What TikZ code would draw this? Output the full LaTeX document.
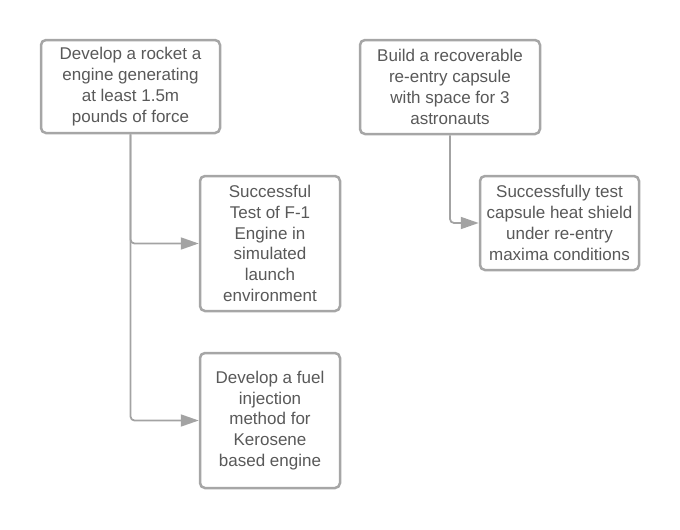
\documentclass[tikz,border=0pt]{standalone}
\usepackage{fontspec}
\setmainfont{Liberation Sans}
\usetikzlibrary{arrows.meta}
\definecolor{boxgray}{HTML}{A6A6A6}
\definecolor{linegray}{HTML}{A3A3A3}
\definecolor{txtgray}{HTML}{595959}
\tikzset{
  box/.style={draw=boxgray, line width=2.5pt, rounded corners=5pt, fill=white,
    align=center, text=txtgray, inner sep=0pt,
    font=\fontsize{17}{20.8}\selectfont},
  conn/.style={draw=linegray, line width=1.8pt, rounded corners=4pt,
    -{Triangle[length=18pt,width=12pt]}}
}
\begin{document}
\begin{tikzpicture}[x=1pt,y=-1pt]
\useasboundingbox (0,0) rectangle (680,530);
\node[box, minimum width=179pt, minimum height=93pt] (b1) at (130.5,86.5)
  {Develop a rocket a\\engine generating\\at least 1.5m\\pounds of force};
\node[box, minimum width=140pt, minimum height=135pt] (b2) at (270,243.5)
  {Successful\\Test of F-1\\Engine in\\simulated\\launch\\environment};
\node[box, minimum width=140pt, minimum height=135pt] (b4) at (270,420.5)
  {Develop a fuel\\injection\\method for\\Kerosene\\based engine};
\node[box, minimum width=180pt, minimum height=94pt] (b3) at (450,87)
  {Build a recoverable\\re-entry capsule\\with space for 3\\astronauts};
\node[box, minimum width=159pt, minimum height=94pt] (b5) at (559.5,223)
  {Successfully test\\capsule heat shield\\under re-entry\\maxima conditions};
\draw[conn] (b1.south) |- (b2.west);
\draw[conn] (b1.south) |- (b4.west);
\draw[conn] (b3.south) |- (b5.west);
\end{tikzpicture}
\end{document}
